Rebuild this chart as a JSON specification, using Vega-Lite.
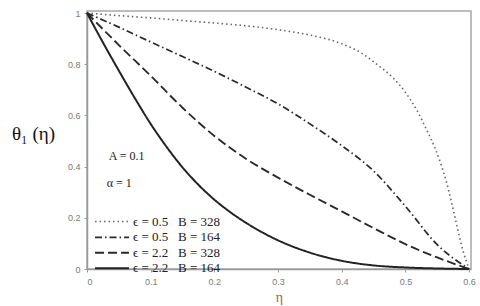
{
  "$schema": "https://vega.github.io/schema/vega-lite/v6.json",
  "width": 384,
  "height": 258,
  "autosize": {"type": "none"},
  "padding": {"left": 87, "top": 11, "right": 9, "bottom": 37},
  "background": "white",
  "config": {
    "view": {"stroke": "#a8a8a8", "strokeWidth": 1.5},
    "axis": {"grid": false, "labelColor": "#7a7a7a", "labelFont": "Liberation Sans", "labelFontSize": 9, "domainColor": "#9a9a9a", "domainWidth": 1.5, "tickColor": "#9a9a9a", "tickSize": 3, "format": ".1~f"}
  },
  "datasets": {
    "curves": [
      {"eta": 0, "theta": 1, "c": "d1"}, {"eta": 0.05, "theta": 0.99, "c": "d1"}, {"eta": 0.1, "theta": 0.981, "c": "d1"}, {"eta": 0.15, "theta": 0.971, "c": "d1"}, {"eta": 0.2, "theta": 0.961, "c": "d1"}, {"eta": 0.25, "theta": 0.95, "c": "d1"}, {"eta": 0.3, "theta": 0.935, "c": "d1"}, {"eta": 0.35, "theta": 0.914, "c": "d1"}, {"eta": 0.4, "theta": 0.88, "c": "d1"}, {"eta": 0.43, "theta": 0.845, "c": "d1"}, {"eta": 0.455, "theta": 0.8, "c": "d1"}, {"eta": 0.48, "theta": 0.748, "c": "d1"}, {"eta": 0.5, "theta": 0.69, "c": "d1"}, {"eta": 0.518, "theta": 0.62, "c": "d1"}, {"eta": 0.534, "theta": 0.54, "c": "d1"}, {"eta": 0.546, "theta": 0.475, "c": "d1"}, {"eta": 0.565, "theta": 0.335, "c": "d1"}, {"eta": 0.578, "theta": 0.2, "c": "d1"}, {"eta": 0.59, "theta": 0.075, "c": "d1"}, {"eta": 0.6, "theta": 0, "c": "d1"},
      {"eta": 0, "theta": 1, "c": "d2"}, {"eta": 0.05, "theta": 0.945, "c": "d2"}, {"eta": 0.1, "theta": 0.887, "c": "d2"}, {"eta": 0.15, "theta": 0.83, "c": "d2"}, {"eta": 0.2, "theta": 0.772, "c": "d2"}, {"eta": 0.25, "theta": 0.71, "c": "d2"}, {"eta": 0.3, "theta": 0.645, "c": "d2"}, {"eta": 0.35, "theta": 0.567, "c": "d2"}, {"eta": 0.4, "theta": 0.482, "c": "d2"}, {"eta": 0.45, "theta": 0.383, "c": "d2"}, {"eta": 0.5, "theta": 0.245, "c": "d2"}, {"eta": 0.55, "theta": 0.095, "c": "d2"}, {"eta": 0.6, "theta": 0, "c": "d2"},
      {"eta": 0, "theta": 1, "c": "d3"}, {"eta": 0.05, "theta": 0.875, "c": "d3"}, {"eta": 0.1, "theta": 0.755, "c": "d3"}, {"eta": 0.15, "theta": 0.63, "c": "d3"}, {"eta": 0.2, "theta": 0.52, "c": "d3"}, {"eta": 0.25, "theta": 0.43, "c": "d3"}, {"eta": 0.3, "theta": 0.357, "c": "d3"}, {"eta": 0.35, "theta": 0.29, "c": "d3"}, {"eta": 0.4, "theta": 0.225, "c": "d3"}, {"eta": 0.45, "theta": 0.16, "c": "d3"}, {"eta": 0.5, "theta": 0.097, "c": "d3"}, {"eta": 0.55, "theta": 0.045, "c": "d3"}, {"eta": 0.6, "theta": 0, "c": "d3"},
      {"eta": 0, "theta": 1, "c": "d4"}, {"eta": 0.025, "theta": 0.885, "c": "d4"}, {"eta": 0.05, "theta": 0.775, "c": "d4"}, {"eta": 0.075, "theta": 0.668, "c": "d4"}, {"eta": 0.1, "theta": 0.567, "c": "d4"}, {"eta": 0.125, "theta": 0.477, "c": "d4"}, {"eta": 0.15, "theta": 0.397, "c": "d4"}, {"eta": 0.175, "theta": 0.329, "c": "d4"}, {"eta": 0.2, "theta": 0.271, "c": "d4"}, {"eta": 0.225, "theta": 0.222, "c": "d4"}, {"eta": 0.25, "theta": 0.18, "c": "d4"}, {"eta": 0.3, "theta": 0.112, "c": "d4"}, {"eta": 0.35, "theta": 0.064, "c": "d4"}, {"eta": 0.4, "theta": 0.032, "c": "d4"}, {"eta": 0.45, "theta": 0.014, "c": "d4"}, {"eta": 0.5, "theta": 0.006, "c": "d4"}, {"eta": 0.55, "theta": 0.002, "c": "d4"}, {"eta": 0.6, "theta": 0, "c": "d4"}
    ],
    "notes": [
      {"eta": 0.034, "theta": 0.441, "txt": "A = 0.1"},
      {"eta": 0.031, "theta": 0.336, "txt": "α = 1"}
    ]
  },
  "layer": [
    {
      "data": {"name": "curves"},
      "mark": {"type": "line", "interpolate": "monotone"},
      "encoding": {
        "x": {"field": "eta", "type": "quantitative", "scale": {"domain": [0, 0.603], "nice": false, "zero": false},
          "axis": {"values": [0, 0.05, 0.1, 0.15, 0.2, 0.25, 0.3, 0.35, 0.4, 0.45, 0.5, 0.55, 0.6], "labelExpr": "abs(datum.value*10 - round(datum.value*10)) < 0.001 ? datum.label : ''", "labelPadding": 5, "title": "η", "titleColor": "#9a6a4a", "titleFont": "Liberation Serif", "titleFontSize": 14, "titleFontWeight": "normal", "titlePadding": 4}},
        "y": {"field": "theta", "type": "quantitative", "scale": {"domain": [0, 1.008], "nice": false},
          "axis": {"values": [0, 0.1, 0.2, 0.3, 0.4, 0.5, 0.6, 0.7, 0.8, 0.9, 1], "labelExpr": "round(datum.value*10) % 2 == 0 ? datum.label : ''", "labelPadding": 4, "title": "θ₁ (η)", "titleAngle": 0, "titleX": -54, "titleY": 122, "titleAlign": "center", "titleBaseline": "middle", "titleFont": "Liberation Serif", "titleFontSize": 19, "titleFontWeight": "normal", "titleColor": "#111"}},
        "detail": {"field": "c"},
        "strokeDash": {"field": "c", "type": "nominal", "scale": {"domain": ["d1", "d2", "d3", "d4"], "range": [[1.5, 3], [7, 3, 1.5, 3], [9, 4], [1, 0]]},
          "legend": {"orient": "none", "legendX": 17, "legendY": 203, "title": null, "symbolType": "M-2.55,0H2.55", "symbolSize": 177, "symbolStrokeWidth": 2, "labelFont": "Liberation Serif", "labelFontSize": 13, "labelColor": "#222", "labelOffset": 13, "rowPadding": 0.4, "labelLimit": 200,
            "labelExpr": "datum.value == 'd1' ? 'ϵ = 0.5\u00a0\u00a0\u00a0B = 328' : datum.value == 'd2' ? 'ϵ = 0.5\u00a0\u00a0\u00a0B = 164' : datum.value == 'd3' ? 'ϵ = 2.2\u00a0\u00a0\u00a0B = 328' : 'ϵ = 2.2\u00a0\u00a0\u00a0B = 164'"}},
        "color": {"field": "c", "type": "nominal", "scale": {"domain": ["d1", "d2", "d3", "d4"], "range": ["#666666", "#2a2a2a", "#2a2a2a", "#222222"]}},
        "strokeWidth": {"field": "c", "type": "nominal", "scale": {"domain": ["d1", "d2", "d3", "d4"], "range": [1.6, 2, 2, 1.8]}}
      }
    },
    {
      "data": {"name": "notes"},
      "mark": {"type": "text", "align": "left", "baseline": "middle", "font": "Liberation Serif", "fontSize": 12, "color": "#222"},
      "encoding": {
        "x": {"field": "eta", "type": "quantitative"},
        "y": {"field": "theta", "type": "quantitative"},
        "text": {"field": "txt"}
      }
    }
  ]
}
